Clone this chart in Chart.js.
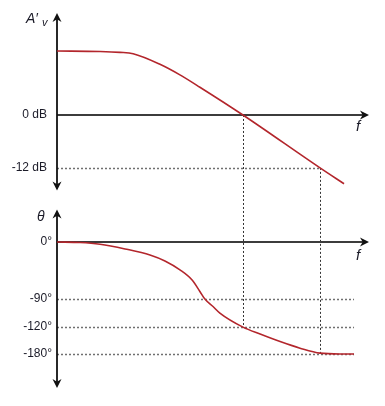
<!DOCTYPE html>
<html>
<head>
<meta charset="utf-8">
<script src="https://cdn.jsdelivr.net/npm/chart.js@4"></script>
<style>
html, body { margin: 0; padding: 0; background: #fff; }
#wrap { width: 385px; height: 406px; }
</style>
</head>
<body>
<div id="wrap"><canvas id="bode"></canvas></div>
<script>
// f runs in arbitrary log-frequency units: 0 at the origin, 100 at the arrow tip
const gainFreq = [0, 13.8, 20.2, 24.4, 33, 39.4, 45.8, 59.6, 84.3, 92];
const gainDb = [14.5, 14.4, 14.2, 13.9, 11.5, 9.1, 6.3, 0, -12, -15.6];

const phaseFreq = [0, 7.4, 13.8, 21.8, 29.8, 34.6, 39.4, 43.3, 45.8, 47.4, 50, 52.2, 59.6, 65.1, 71.5, 77.9, 84.3, 90.7, 95.2];
const phaseDeg = [0, -0.8, -3.6, -11, -20.5, -30, -44, -60, -78, -90, -98, -105, -120, -135.6, -152.4, -167.1, -178.2, -180, -180];

const gainTicks = [0, -12];
const phaseTicks = [0, -90, -120, -180];

// the two read-off points (0 dB crossing and -12 dB)
const markFreq = [59.6, 84.3];
const markGain = [0, -12];
const markPhase = [-120, -180];
const phaseGridEnd = 95.2;

// the phase axis of the sketch is not to scale: value -> fraction of panel height from top
const phaseBreaks = [[65, 0], [0, 0.21], [-90, 0.499], [-120, 0.641], [-180, 0.777], [-280, 1]];

class BrokenScale extends Chart.LinearScale {
  getPixelForValue(v) {
    const b = phaseBreaks;
    let i = 0;
    while (i < b.length - 2 && v < b[i + 1][0]) i++;
    const t = (v - b[i][0]) / (b[i + 1][0] - b[i][0]);
    const f = b[i][1] + t * (b[i + 1][1] - b[i][1]);
    return this.top + f * (this.bottom - this.top);
  }
  getValueForPixel(p) {
    const b = phaseBreaks;
    const f = (p - this.top) / (this.bottom - this.top);
    let i = 0;
    while (i < b.length - 2 && f > b[i + 1][1]) i++;
    const t = (f - b[i][1]) / (b[i + 1][1] - b[i][1]);
    return b[i][0] + t * (b[i + 1][0] - b[i][0]);
  }
}
BrokenScale.id = 'broken';
Chart.register(BrokenScale);

const textColor = '#1b1b28';
const curveColor = '#b3262c';

function arrowHead(ctx, x, y, dx, dy) {
  const len = 9, half = 4.5;
  ctx.beginPath();
  ctx.moveTo(x, y);
  ctx.lineTo(x - dx * len - dy * half, y - dy * len + dx * half);
  ctx.lineTo(x - dx * len * 0.7, y - dy * len * 0.7);
  ctx.lineTo(x - dx * len + dy * half, y - dy * len - dx * half);
  ctx.closePath();
  ctx.fill();
}

// where the vertical axis arrows sit inside each panel
function axisEnds(s, isPhase) {
  return { top: s.top + (isPhase ? 9 : 10), bottom: s.bottom - 10 };
}

const bodeGuides = {
  id: 'bodeGuides',
  beforeDatasetsDraw(chart) {
    const ctx = chart.ctx;
    const x = chart.scales.x, yMag = chart.scales.yMag, yPhase = chart.scales.yPhase;
    const x0 = x.getPixelForValue(0);
    ctx.save();

    // dotted horizontal guides
    ctx.setLineDash([2, 2]);
    ctx.strokeStyle = '#707070';
    ctx.lineWidth = 1.5;
    gainTicks.forEach(function (t) {
      const k = markGain.indexOf(t);
      if (t === 0 || k < 0) return;
      const y = Math.round(yMag.getPixelForValue(t)) + 0.5;
      ctx.beginPath();
      ctx.moveTo(x0, y);
      ctx.lineTo(x.getPixelForValue(markFreq[k]), y);
      ctx.stroke();
    });
    phaseTicks.forEach(function (t) {
      if (t === 0) return;
      const y = Math.round(yPhase.getPixelForValue(t)) + 0.5;
      ctx.beginPath();
      ctx.moveTo(x0, y);
      ctx.lineTo(x.getPixelForValue(phaseGridEnd), y);
      ctx.stroke();
    });

    // dotted verticals joining gain and phase
    ctx.strokeStyle = '#333';
    ctx.lineWidth = 1;
    markFreq.forEach(function (f, i) {
      const px = Math.round(x.getPixelForValue(f)) + 0.5;
      ctx.beginPath();
      ctx.moveTo(px, yMag.getPixelForValue(markGain[i]));
      ctx.lineTo(px, yPhase.getPixelForValue(markPhase[i]));
      ctx.stroke();
    });
    ctx.setLineDash([]);

    // f axes with arrows
    ctx.lineWidth = 1.8;
    ctx.strokeStyle = '#3c3c3c';
    ctx.fillStyle = '#111';
    [yMag, yPhase].forEach(function (s) {
      const y = s.getPixelForValue(0);
      ctx.beginPath();
      ctx.moveTo(x0, y);
      ctx.lineTo(x.right - 4, y);
      ctx.stroke();
      arrowHead(ctx, x.right, y, 1, 0);
    });

    // vertical axes, arrows at both ends
    ctx.strokeStyle = '#111';
    [[yMag, false], [yPhase, true]].forEach(function (a) {
      const e = axisEnds(a[0], a[1]);
      ctx.beginPath();
      ctx.moveTo(x0, e.top + 4);
      ctx.lineTo(x0, e.bottom - 4);
      ctx.stroke();
      arrowHead(ctx, x0, e.top, 0, -1);
      arrowHead(ctx, x0, e.bottom, 0, 1);
    });
    ctx.restore();
  },
  afterDraw(chart) {
    const ctx = chart.ctx;
    const x = chart.scales.x, yMag = chart.scales.yMag, yPhase = chart.scales.yPhase;
    const magTop = axisEnds(yMag, false).top, phaseTop = axisEnds(yPhase, true).top;
    ctx.save();
    ctx.fillStyle = textColor;
    ctx.textBaseline = 'alphabetic';
    ctx.textAlign = 'left';
    ctx.font = 'italic 14px "Liberation Sans", Arial, sans-serif';
    ctx.fillText('A\u2032', 26, magTop + 10);
    ctx.font = 'italic 11px "Liberation Sans", Arial, sans-serif';
    ctx.fillText('v', 42, magTop + 13);
    ctx.font = 'italic 14px "Liberation Sans", Arial, sans-serif';
    ctx.fillText('\u03b8', 37, phaseTop + 11);
    ctx.textAlign = 'center';
    ctx.font = 'italic 15px "Liberation Sans", Arial, sans-serif';
    ctx.fillText('f', x.right - 11, yMag.getPixelForValue(0) + 16);
    ctx.fillText('f', x.right - 11, yPhase.getPixelForValue(0) + 18);
    ctx.restore();
  }
};

const labelFont = { family: '"Liberation Sans", Arial, sans-serif', size: 12 };

function fixAxisBox(s) {
  s.width = 57;
  s.paddingTop = 0;
  s.paddingBottom = 0;
}

const config = {
  type: 'line',
  data: {
    datasets: [{
      label: "A'v",
      data: gainFreq.map(function (f, i) { return { x: f, y: gainDb[i] }; }),
      yAxisID: 'yMag',
      borderColor: curveColor,
      borderWidth: 1.6,
      pointRadius: 0,
      cubicInterpolationMode: 'monotone',
      fill: false
    }, {
      label: '\u03b8',
      data: phaseFreq.map(function (f, i) { return { x: f, y: phaseDeg[i] }; }),
      yAxisID: 'yPhase',
      borderColor: curveColor,
      borderWidth: 1.6,
      pointRadius: 0,
      cubicInterpolationMode: 'monotone',
      fill: false
    }]
  },
  options: {
    animation: false,
    responsive: true,
    maintainAspectRatio: false,
    layout: { padding: { top: 3, bottom: 8, left: 0, right: 16 } },
    plugins: { legend: { display: false }, tooltip: { enabled: false } },
    scales: {
      x: { type: 'linear', min: 0, max: 100, display: false },
      yMag: {
        type: 'linear', position: 'left', stack: 'bode', stackWeight: 1, weight: 1,
        min: -19.4, max: 25.4,
        grid: { display: false, drawTicks: false, tickLength: 0 }, border: { display: false },
        afterBuildTicks: function (s) { s.ticks = gainTicks.map(function (v) { return { value: v }; }); },
        afterFit: fixAxisBox,
        ticks: { padding: 10, color: textColor, font: labelFont, callback: function (v) { return v + ' dB'; } }
      },
      yPhase: {
        type: 'broken', position: 'left', stack: 'bode', stackWeight: 1, weight: 0,
        min: -280, max: 65,
        grid: { display: false, drawTicks: false, tickLength: 0 }, border: { display: false },
        afterBuildTicks: function (s) { s.ticks = phaseTicks.map(function (v) { return { value: v }; }); },
        afterFit: fixAxisBox,
        ticks: { padding: 5, color: textColor, font: labelFont, callback: function (v) { return v + '\u00b0'; } }
      }
    }
  },
  plugins: [bodeGuides]
};

window.onload = function () {
  const ctx = document.getElementById('bode').getContext('2d');
  window.bodeChart = new Chart(ctx, config);
};
</script>
</body>
</html>
